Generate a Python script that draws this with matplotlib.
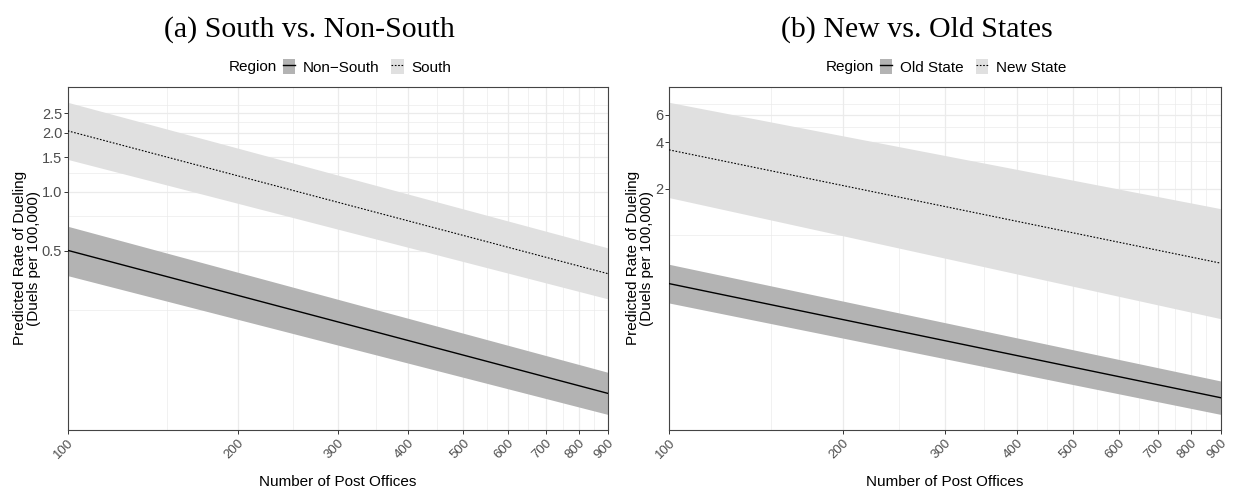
import numpy as np
import matplotlib
matplotlib.use("Agg")
import matplotlib.pyplot as plt
from matplotlib.ticker import FixedLocator, FixedFormatter, NullFormatter
from matplotlib.patches import Patch
from matplotlib.lines import Line2D

# ---------------- data ----------------
post_offices = [100, 900]
x_ticks = [100, 200, 300, 400, 500, 600, 700, 800, 900]
x_minor = [150, 250, 350, 450, 550, 650, 750, 850]

# (a) South vs Non-South
nonsouth_fit = [0.503, 0.0942]
nonsouth_lo = [0.374, 0.0736]
nonsouth_hi = [0.667, 0.1206]
south_fit = [2.04, 0.383]
south_lo = [1.46, 0.285]
south_hi = [2.85, 0.518]
a_yticks = [0.5, 1.0, 1.5, 2.0, 2.5]
a_ylabels = ["0.5", "1.0", "1.5", "2.0", "2.5"]
a_yminor = [0.25, 0.75, 1.25, 1.75, 2.25, 2.75]

# (b) New vs Old States
old_fit = [0.487, 0.0892]
old_lo = [0.365, 0.0696]
old_hi = [0.649, 0.1144]
new_fit = [3.56, 0.66]
new_lo = [1.75, 0.289]
new_hi = [7.22, 1.484]
b_yticks = [2, 4, 6]
b_ylabels = ["2", "4", "6"]
b_yminor = [1, 3, 5, 7]

DARK = "#B3B3B3"
LIGHT = "#E0E0E0"
GRID = "#EBEBEB"
SANS = ["Liberation Sans", "DejaVu Sans"]
plt.rcParams["font.family"] = SANS

W, H = 1237, 490
fig = plt.figure(figsize=(W / 100, H / 100), dpi=100)


def px_axes(x0, x1, ytop, ybot):
    return fig.add_axes([x0 / W, 1 - ybot / H, (x1 - x0) / W, (ybot - ytop) / H])


def setup(ax, yticks, ylabels, yminor, lows, highs):
    ax.set_xscale("log")
    ax.set_yscale("log")
    ax.set_xlim(post_offices[0], post_offices[-1])
    lo = np.log(min(min(v) for v in lows))
    hi = np.log(max(max(v) for v in highs))
    pad = 0.05 * (hi - lo)
    ax.set_ylim(np.exp(lo - pad), np.exp(hi + pad))
    ax.xaxis.set_major_locator(FixedLocator(x_ticks))
    ax.xaxis.set_major_formatter(FixedFormatter([str(t) for t in x_ticks]))
    ax.xaxis.set_minor_locator(FixedLocator(x_minor))
    ax.xaxis.set_minor_formatter(NullFormatter())
    ax.yaxis.set_major_locator(FixedLocator(yticks))
    ax.yaxis.set_major_formatter(FixedFormatter(ylabels))
    ax.yaxis.set_minor_locator(FixedLocator(yminor))
    ax.yaxis.set_minor_formatter(NullFormatter())
    ax.grid(True, which="major", color=GRID, lw=0.9, zorder=0)
    ax.grid(True, which="minor", color=GRID, lw=0.5, zorder=0)
    ax.set_axisbelow(True)
    ax.tick_params(which="minor", length=0)
    ax.tick_params(which="major", length=3.0, width=0.7, color="#333333",
                   labelcolor="#4D4D4D", labelsize=10.5, pad=1)
    ax.tick_params(axis="x", labelsize=9.5, pad=2)
    for lab in ax.get_xticklabels():
        lab.set_rotation(45)
        lab.set_ha("right")
        lab.set_va("top")
        lab.set_rotation_mode("anchor")
    for s in ax.spines.values():
        s.set_color("#444444")
        s.set_linewidth(0.8)
    ax.set_xlabel("Number of Post Offices", fontsize=11, color="black")
    ax.xaxis.set_label_coords(0.5, -0.132)
    ax.set_ylabel("Predicted Rate of Dueling\n(Duels per 100,000)", fontsize=11,
                  color="black", linespacing=1.0)


def draw_panel(ax, low_set, high_set):
    (d_fit, d_lo, d_hi), (l_fit, l_lo, l_hi) = low_set, high_set
    ax.fill_between(post_offices, l_lo, l_hi, color=LIGHT, lw=0, zorder=2)
    ax.fill_between(post_offices, d_lo, d_hi, color=DARK, lw=0, zorder=2)
    ax.plot(post_offices, l_fit, color="black", lw=0.8, ls=(0, (1.5, 1.5)), zorder=3)
    ax.plot(post_offices, d_fit, color="black", lw=1.0, zorder=3)


def add_legend(labels, cx_px):
    h1 = (Patch(facecolor=DARK, edgecolor="none"), Line2D([], [], color="black", lw=1.0))
    h2 = (Patch(facecolor=LIGHT, edgecolor="none"),
          Line2D([], [], color="black", lw=0.8, ls=(0, (1.5, 1.5))))
    leg = fig.legend([h1, h2], labels, loc="center", ncol=2, frameon=False,
                     bbox_to_anchor=(cx_px / W, 1 - 67 / H), fontsize=11,
                     handlelength=0.8, handleheight=1.1, handletextpad=0.5,
                     columnspacing=0.8, borderpad=0)
    return leg


# panel (a)
ax1 = px_axes(67.7, 607.7, 86.7, 430)
setup(ax1, a_yticks, a_ylabels, a_yminor,
      [nonsouth_lo, south_lo], [nonsouth_hi, south_hi])
draw_panel(ax1, (nonsouth_fit, nonsouth_lo, nonsouth_hi),
           (south_fit, south_lo, south_hi))
ax1.yaxis.set_label_coords((41 - 67.7) / 540, 0.5)

# panel (b)
ax2 = px_axes(669, 1220.7, 86.7, 430)
setup(ax2, b_yticks, b_ylabels, b_yminor,
      [old_lo, new_lo], [old_hi, new_hi])
draw_panel(ax2, (old_fit, old_lo, old_hi), (new_fit, new_lo, new_hi))
ax2.yaxis.set_label_coords((654 - 669) / 551.7, 0.5)

# legends
leg1 = add_legend(["Non\u2212South", "South"], 367)
leg2 = add_legend(["Old State", "New State"], 973)
fig.canvas.draw()
r = fig.canvas.get_renderer()
for leg in (leg1, leg2):
    bb = leg.get_window_extent(r)
    fig.text((bb.x0 - 6) / W, (bb.y0 + bb.y1) / 2 / H, "Region", ha="right",
             va="center", fontsize=11)

# titles
TITLE_FONT = ["Liberation Serif", "DejaVu Serif"]
fig.text(309 / W, 1 - 30 / H, "(a) South vs. Non-South", ha="center", va="center",
         fontsize=21.5, family=TITLE_FONT)
fig.text(916.5 / W, 1 - 30 / H, "(b) New vs. Old States", ha="center", va="center",
         fontsize=21.5, family=TITLE_FONT)

fig.savefig("out.png", dpi=100, facecolor="white")
